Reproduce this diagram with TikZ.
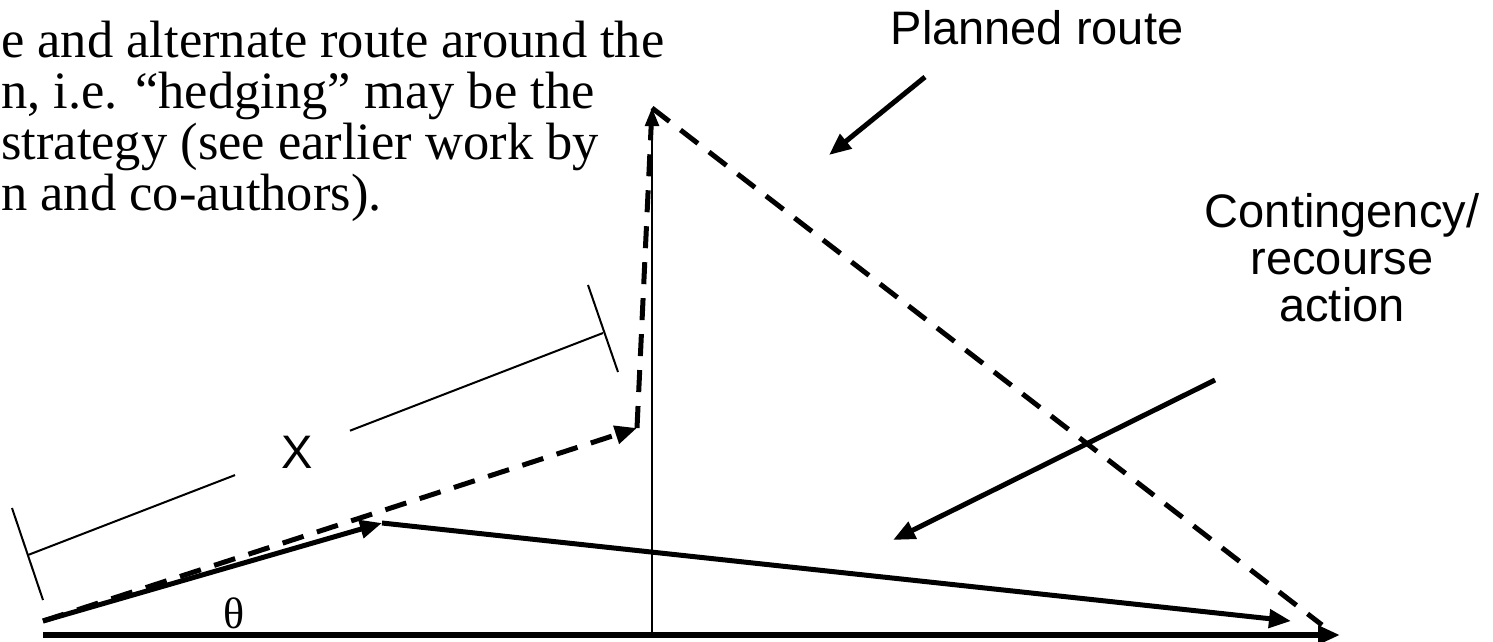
\documentclass[tikz,border=0pt]{standalone}
\usepackage{fontspec}
\setmainfont{Liberation Serif}
\newfontfamily\arialf{Liberation Sans}
\usetikzlibrary{arrows.meta,calc}
\begin{document}
\begin{tikzpicture}[x=1pt,y=-1pt,
  thickln/.style={line width=5pt},
  thinln/.style={line width=2.5pt},
  dimln/.style={line width=2pt},
  dashln/.style={line width=5pt, dash pattern=on 22pt off 14pt},
  bigtip/.style={-{Triangle[length=22pt,width=18pt]}},
  smalltip/.style={-{Triangle[length=18pt,width=14pt]}},
  sans/.style={font=\arialf\fontsize{47}{47}\selectfont, align=center, inner sep=0pt},
  serif/.style={font=\fontsize{52.5}{50}\selectfont, anchor=base west, inner sep=0pt},
]
\useasboundingbox (0,0) rectangle (1493,642);

% text paragraph
\node[serif] (t2) at (1,57)  {e and alternate route around the};
\node[serif] (t3) at (1,108) {n, i.e. “hedging” may be the};
\node[serif] (t4) at (1,159) {strategy (see earlier work by};
\node[serif] (t5) at (1,210) {n and co-authors).};

% labels
\node[sans, anchor=base] (planned) at (1037,45) {Planned route};
\node[sans, anchor=base] (conting) at (1342,321) {Contingency/\\recourse\\action};
\node[sans] (xlab) at (297,452) {X};
\node[font=\fontsize{44}{44}\selectfont, inner sep=0pt] (theta) at (234,613) {θ};

% points
\coordinate (O) at (43,621);
\coordinate (A) at (382,523);
\coordinate (B) at (1291,621);
\coordinate (C) at (637,428);
\coordinate (D) at (652,108);
\coordinate (E) at (1322,625);
\coordinate (Ax0) at (43,635);
\coordinate (Ax1) at (1340,635);
\coordinate (V0) at (652,635);
\coordinate (P0) at (925,77);
\coordinate (P1) at (829,155);
\coordinate (K0) at (1215,380);
\coordinate (K1) at (893,540);
\coordinate (L1) at (12,508);
\coordinate (L2) at (43,600);
\coordinate (R1) at (588,285);
\coordinate (R2) at (618,372);
\coordinate (M1) at (28,555);
\coordinate (M2) at (603,333);
\coordinate (G1) at ($(M1)!0.36!(M2)$);
\coordinate (G2) at ($(M1)!0.56!(M2)$);

% axes
\draw[thickln, line width=6pt, bigtip] (Ax0) -- (Ax1);
\draw[thinln, smalltip] (V0) -- (D);

% dimension X
\draw[dimln] (L1) -- (L2);
\draw[dimln] (R1) -- (R2);
\draw[dimln] (M1) -- (G1);
\draw[dimln] (G2) -- (M2);

% planned route (dashed)
\draw[dashln, bigtip] (O) -- (C);
\draw[dashln] (C) -- (D);
\draw[dashln] (D) -- (E);

% contingency route (solid)
\draw[thickln, bigtip] (O) -- (A);
\draw[thickln, bigtip] (A) -- (B);

% label arrows
\draw[thickln, bigtip] (P0) -- (P1);
\draw[thickln, bigtip] (K0) -- (K1);
\end{tikzpicture}
\end{document}
